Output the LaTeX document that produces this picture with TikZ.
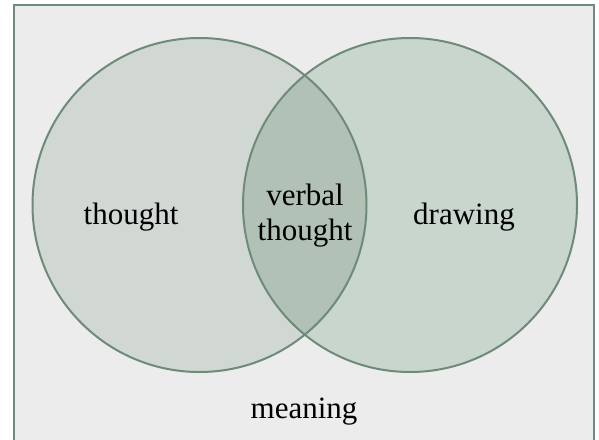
\documentclass[tikz,border=0pt]{standalone}
\usepackage{fontspec}
\setmainfont{Liberation Serif}
\definecolor{borde}{HTML}{6E8B7A}
\definecolor{fondo}{HTML}{ECECEC}
\definecolor{izq}{HTML}{D1D8D4}
\definecolor{der}{HTML}{C9D6CD}
\definecolor{lente}{HTML}{B1C1B5}
\tikzset{
    etiqueta/.style={font=\fontsize{31}{35}\selectfont, align=center, inner sep=0pt},
    contorno/.style={draw=borde, line width=2pt}
}
\begin{document}
\begin{tikzpicture}[x=1pt, y=-1pt]
    % parámetros
    \def\ax{199.5}  % centro izquierdo
    \def\bx{410}    % centro derecho
    \def\cy{205}    % altura de los centros
    \def\rr{167}    % radio

    \useasboundingbox (0,0) rectangle (599,439);

    % marco
    \draw[contorno, fill=fondo] (14,5) rectangle (594,460);

    % círculos
    \fill[izq] (\ax,\cy) circle [radius=\rr];
    \fill[der] (\bx,\cy) circle [radius=\rr];
    % intersección
    \begin{scope}
        \clip (\ax,\cy) circle [radius=\rr];
        \fill[lente] (\bx,\cy) circle [radius=\rr];
    \end{scope}
    \draw[contorno] (\ax,\cy) circle [radius=\rr];
    \draw[contorno] (\bx,\cy) circle [radius=\rr];

    % etiquetas
    \node[etiqueta] (thought) at (131,217) {thought};
    \node[etiqueta] (verbal) at (305,216) {verbal\\thought};
    \node[etiqueta] (drawing) at (464,217) {drawing};
    \node[etiqueta] (meaning) at (304,412) {meaning};
\end{tikzpicture}
\end{document}
